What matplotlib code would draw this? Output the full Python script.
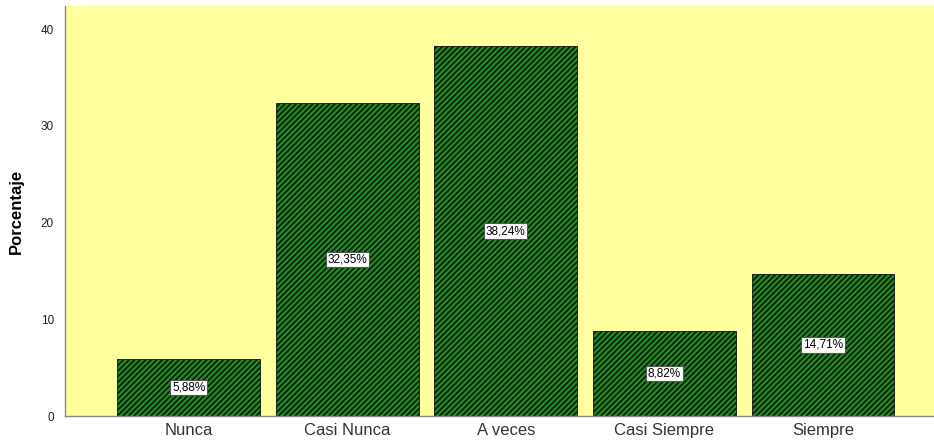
import matplotlib.pyplot as plt
import numpy as np

plt.rcParams['font.family'] = ['Liberation Sans', 'DejaVu Sans']
plt.rcParams['hatch.color'] = 'black'
plt.rcParams['hatch.linewidth'] = 1.1

categorias = ['Nunca', 'Casi Nunca', 'A veces', 'Casi Siempre', 'Siempre']
porcentajes = [5.88, 32.35, 38.24, 8.82, 14.71]
etiquetas = ['5,88%', '32,35%', '38,24%', '8,82%', '14,71%']

fig = plt.figure(figsize=(9.34, 4.48), dpi=100)
ax = fig.add_axes([65 / 934, 32 / 448, 1 - 65 / 934, 410 / 448])
ax.set_facecolor('#ffff9e')

x = np.arange(len(categorias))
ax.bar(x, porcentajes, width=0.9, color='#1f8a1f', edgecolor='#111111',
       linewidth=0.6, hatch='//////')

for xi, v, t in zip(x, porcentajes, etiquetas):
    ax.text(xi, v / 2, t, ha='center', va='center', fontsize=8.5,
            bbox=dict(boxstyle='square,pad=0.15', fc='white', ec='#555555', lw=0.8))

ax.set_xlim(-0.78, 4.70)
ax.set_ylim(0, 42.4)
ax.set_yticks([0, 10, 20, 30, 40])
ax.set_xticks(x)
ax.set_xticklabels(categorias, fontsize=12, color='#333333')
ax.tick_params(axis='y', labelsize=8.5, length=0, pad=8, labelcolor='#222222')
ax.tick_params(axis='x', length=0, pad=5)
ax.set_ylabel('Porcentaje', fontsize=12, fontweight='bold', labelpad=12)

for s in ['top', 'right']:
    ax.spines[s].set_visible(False)
for s in ['left', 'bottom']:
    ax.spines[s].set_color('#888888')
    ax.spines[s].set_linewidth(1.0)

fig.savefig('out.png', dpi=100)
